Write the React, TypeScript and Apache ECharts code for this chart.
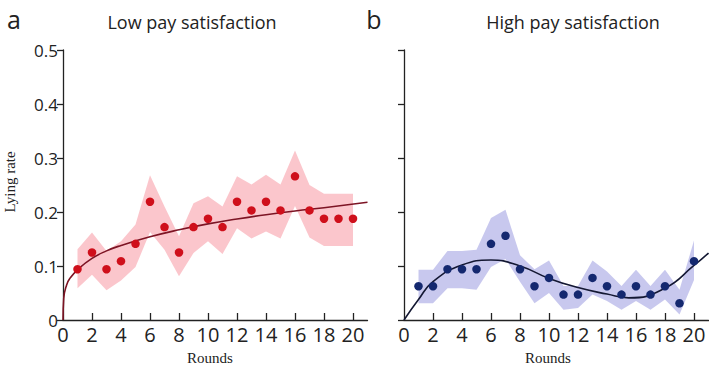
import React, { useEffect, useRef } from "react";
import * as echarts from "echarts";

const rounds = [1, 2, 3, 4, 5, 6, 7, 8, 9, 10, 11, 12, 13, 14, 15, 16, 17, 18, 19, 20];

const lowMean = [0.094, 0.125, 0.094, 0.109, 0.141, 0.219, 0.172, 0.125, 0.172, 0.1875, 0.172, 0.219, 0.203, 0.219, 0.203, 0.266, 0.203, 0.1875, 0.1875, 0.1875];
const lowUpper = [0.131, 0.162, 0.128, 0.146, 0.177, 0.268, 0.21, 0.155, 0.216, 0.229, 0.21, 0.266, 0.251, 0.269, 0.251, 0.314, 0.25, 0.234, 0.234, 0.234];
const lowLower = [0.059, 0.084, 0.055, 0.073, 0.098, 0.163, 0.13, 0.081, 0.124, 0.146, 0.122, 0.17, 0.151, 0.164, 0.151, 0.211, 0.153, 0.137, 0.137, 0.137];
const lowFitX = [0, 0.05, 0.25, 0.5, 1, 2, 3, 4, 6, 8, 10, 12, 14, 16, 18, 21];
const lowFitY = [0, 0.04, 0.065, 0.078, 0.093, 0.114, 0.128, 0.138, 0.154, 0.167, 0.178, 0.187, 0.195, 0.202, 0.208, 0.218];

const highMean = [0.0625, 0.0625, 0.094, 0.094, 0.094, 0.141, 0.156, 0.094, 0.0625, 0.078, 0.047, 0.047, 0.078, 0.0625, 0.047, 0.0625, 0.047, 0.0625, 0.031, 0.109];
const highUpper = [0.093, 0.093, 0.128, 0.128, 0.13, 0.189, 0.204, 0.12, 0.094, 0.11, 0.063, 0.063, 0.11, 0.09, 0.063, 0.093, 0.063, 0.093, 0.056, 0.147];
const highLower = [0.031, 0.031, 0.059, 0.059, 0.056, 0.098, 0.113, 0.071, 0.031, 0.05, 0.019, 0.022, 0.047, 0.035, 0.019, 0.035, 0.019, 0.038, 0.01, 0.074];
const highFitX = [0, 1, 2, 4, 6, 8, 10, 12, 14, 15.5, 18, 20, 21];
const highFitY = [0, 0.038, 0.071, 0.102, 0.111, 0.1, 0.077, 0.06, 0.048, 0.041, 0.059, 0.101, 0.124];

const xTickValues = [2, 4, 6, 8, 10, 12, 14, 16, 18, 20];
const xLabelValues = [0, 2, 4, 6, 8, 10, 12, 14, 16, 18, 20];

const sans = "'Open Sans', 'Noto Sans', sans-serif";
const serif = "'Liberation Serif', 'DejaVu Serif', serif";

function bandSeries(idx: number, upper: number[], lower: number[], color: string) {
  return {
    type: "custom",
    xAxisIndex: idx,
    yAxisIndex: idx,
    data: [[1, 0]],
    silent: true,
    z: 1,
    renderItem: (_p: any, api: any) => {
      const pts: number[][] = [];
      for (let i = 0; i < rounds.length; i++) pts.push(api.coord([rounds[i], upper[i]]));
      for (let i = rounds.length - 1; i >= 0; i--) pts.push(api.coord([rounds[i], lower[i]]));
      return { type: "polygon", shape: { points: pts }, style: { fill: color, stroke: "none" } };
    },
  };
}

function xAxis(idx: number) {
  return {
    type: "value",
    gridIndex: idx,
    min: 0,
    max: 21,
    interval: 2,
    splitLine: { show: false },
    axisLine: { lineStyle: { color: "#222", width: 1.3 } },
    axisTick: { inside: true, length: 7, customValues: xTickValues, lineStyle: { color: "#222", width: 1.3 } },
    axisLabel: { customValues: xLabelValues, color: "#222", fontSize: 20, fontFamily: sans, margin: 4 },
  };
}

function yAxis(idx: number, showLabels: boolean) {
  return {
    type: "value",
    gridIndex: idx,
    min: 0,
    max: 0.5,
    interval: 0.1,
    splitLine: { show: false },
    axisLine: { show: true, lineStyle: { color: "#222", width: 1.3 } },
    axisTick: { show: true, length: 6, lineStyle: { color: "#222", width: 1.3 } },
    axisLabel: {
      show: showLabels,
      color: "#222",
      fontSize: 17,
      fontFamily: sans,
      margin: 5,
      formatter: (v: number) => (v === 0 ? "0" : v.toFixed(1)),
    },
  };
}

export default function App() {
  const ref = useRef<HTMLDivElement>(null);
  useEffect(() => {
    if (!ref.current) return;
    const chart = echarts.init(ref.current, null, { renderer: "svg" });
    chart.setOption({
      animation: false,
      backgroundColor: "#ffffff",
      title: [
        { text: "Low pay satisfaction", left: 187, top: 8, textAlign: "center", textStyle: { fontSize: 18, fontWeight: "normal", color: "#222", fontFamily: sans } },
        { text: "High pay satisfaction", left: 568, top: 8, textAlign: "center", textStyle: { fontSize: 18, fontWeight: "normal", color: "#222", fontFamily: sans } },
      ],
      graphic: [
        { type: "text", x: 14, y: 19, style: { text: "a", fill: "#222", font: "25px " + sans, align: "center", verticalAlign: "middle" } },
        { type: "text", x: 374, y: 19, style: { text: "b", fill: "#222", font: "25px " + sans, align: "center", verticalAlign: "middle" } },
        { type: "text", x: 10, y: 182, rotation: Math.PI / 2, style: { text: "Lying rate", fill: "#222", font: "15px " + serif, align: "center", verticalAlign: "middle" } },
        { type: "text", x: 210, y: 358, style: { text: "Rounds", fill: "#222", font: "15px " + serif, align: "center", verticalAlign: "middle" } },
        { type: "text", x: 548, y: 358, style: { text: "Rounds", fill: "#222", font: "15px " + serif, align: "center", verticalAlign: "middle" } },
      ],
      grid: [
        { left: 63, top: 50, width: 304.5, height: 270 },
        { left: 404, top: 50, width: 304.5, height: 270 },
      ],
      xAxis: [xAxis(0), xAxis(1)],
      yAxis: [yAxis(0, true), yAxis(1, false)],
      series: [
        bandSeries(0, lowUpper, lowLower, "rgba(250,188,195,0.85)"),
        bandSeries(1, highUpper, highLower, "rgba(194,194,236,0.9)"),
        {
          type: "line", xAxisIndex: 0, yAxisIndex: 0, smooth: true, showSymbol: false, z: 3,
          lineStyle: { color: "#7d1424", width: 1.6 },
          data: lowFitX.map((x, i) => [x, lowFitY[i]]),
        },
        {
          type: "line", xAxisIndex: 1, yAxisIndex: 1, smooth: true, showSymbol: false, z: 3,
          lineStyle: { color: "#141833", width: 1.6 },
          data: highFitX.map((x, i) => [x, highFitY[i]]),
        },
        {
          type: "scatter", xAxisIndex: 0, yAxisIndex: 0, symbolSize: 8.5, z: 4,
          itemStyle: { color: "#cf0f1b", opacity: 1 },
          data: rounds.map((r, i) => [r, lowMean[i]]),
        },
        {
          type: "scatter", xAxisIndex: 1, yAxisIndex: 1, symbolSize: 8.5, z: 4,
          itemStyle: { color: "#14286f", opacity: 1 },
          data: rounds.map((r, i) => [r, highMean[i]]),
        },
      ],
    });
    return () => chart.dispose();
  }, []);
  return <div ref={ref} style={{ width: 709, height: 374, position: "absolute", left: 0, top: 0 }} />;
}
